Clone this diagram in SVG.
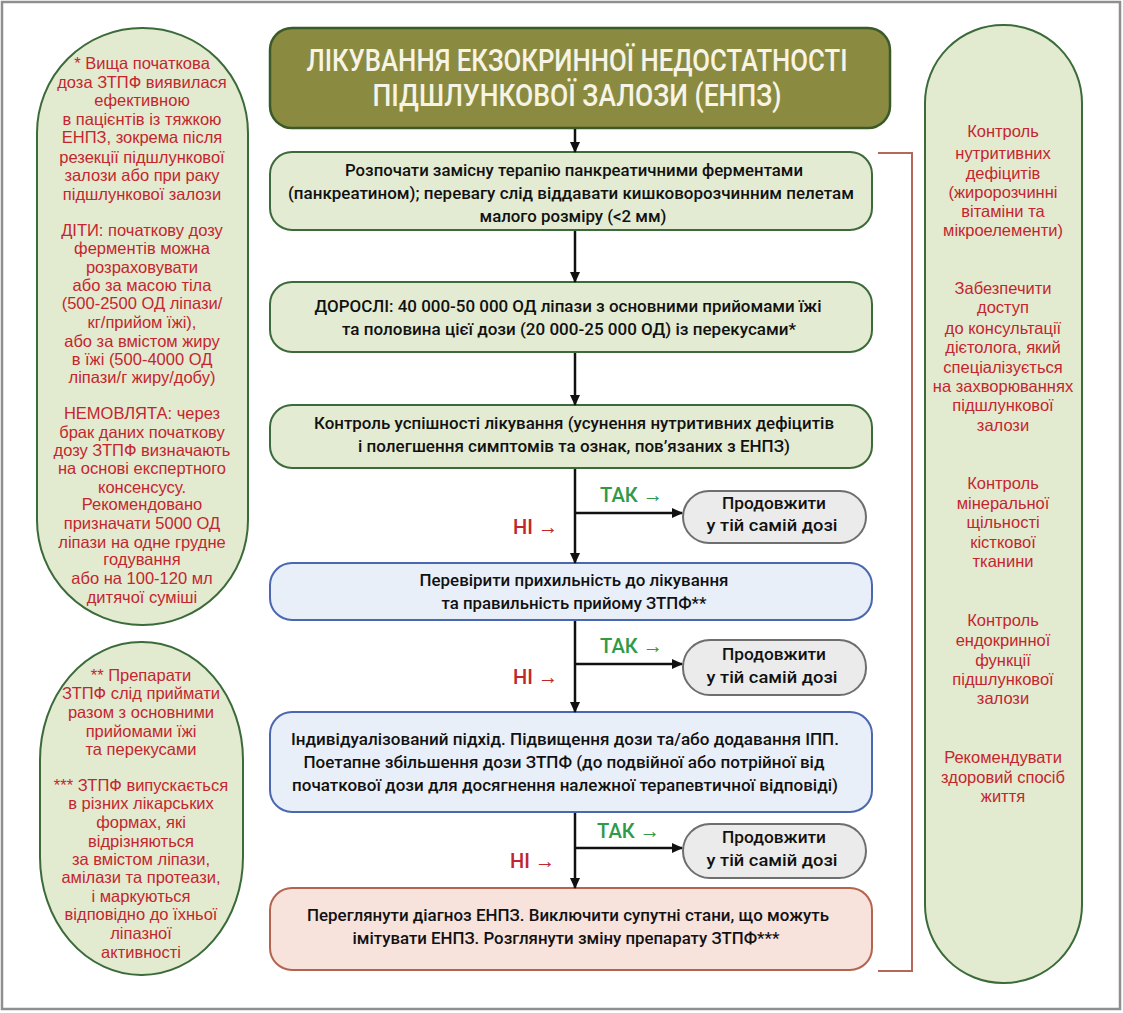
<svg xmlns="http://www.w3.org/2000/svg" width="1123" height="1013" viewBox="0 0 1123 1013">
<defs>
<marker id="ah" markerUnits="userSpaceOnUse" markerWidth="11" markerHeight="10" refX="10" refY="5" orient="auto">
<path d="M0,0 L11,5 L0,10 z" fill="#111"/>
</marker>
<style>
.frame{fill:#fff;stroke:#8f8f8f;stroke-width:2.5}
.pill{fill:#e2ead0;stroke:#3c6b3a;stroke-width:2}
.gbox{fill:#e3ebd2;stroke:#3d6a3b;stroke-width:2}
.bbox{fill:#e9eff9;stroke:#4a67b0;stroke-width:2}
.pbox{fill:#f7e2dc;stroke:#b4634f;stroke-width:2}
.cbox{fill:#ebebeb;stroke:#6e6e6e;stroke-width:2}
.title{fill:#8a8b40;stroke:#3b5a2a;stroke-width:2.5}
.tt{font-family:Roboto,"Liberation Sans",sans-serif;font-weight:500;font-size:31px;fill:#f7f4e6;text-anchor:middle}
.bt{font-family:Roboto,"Liberation Sans",sans-serif;font-weight:500;font-size:17px;fill:#111;text-anchor:middle}
.st{font-family:"Liberation Sans",Roboto,sans-serif;font-size:16.5px;fill:#c4262e;text-anchor:middle}
.yes{font-family:Roboto,"Liberation Sans",sans-serif;font-weight:500;font-size:21px;fill:#2f9a48}
.no{font-family:Roboto,"Liberation Sans",sans-serif;font-weight:500;font-size:21px;fill:#c0272d}
.ln{stroke:#111;stroke-width:2.5;fill:none;marker-end:url(#ah)}
.br{stroke:#b5685a;stroke-width:2;fill:none}
</style>
</defs>
<rect class="frame" x="2" y="2" width="1118" height="1007"/>

<g id="note-left-top">
<rect class="pill" x="37" y="28" width="211" height="597" rx="105" ry="105"/>
<text class="st" x="142" y="69">* Вища початкова</text>
<text class="st" x="142" y="88">доза ЗТПФ виявилася</text>
<text class="st" x="142" y="106">ефективною</text>
<text class="st" x="142" y="125">в пацієнтів із тяжкою</text>
<text class="st" x="142" y="143">ЕНПЗ, зокрема після</text>
<text class="st" x="142" y="163">резекції підшлункової</text>
<text class="st" x="142" y="181">залози або при раку</text>
<text class="st" x="142" y="200">підшлункової залози</text>
<text class="st" x="142" y="236">ДІТИ: початкову дозу</text>
<text class="st" x="142" y="254">ферментів можна</text>
<text class="st" x="142" y="273">розраховувати</text>
<text class="st" x="142" y="291">або за масою тіла</text>
<text class="st" x="142" y="309">(500-2500 ОД ліпази/</text>
<text class="st" x="142" y="328">кг/прийом їжі),</text>
<text class="st" x="142" y="347">або за вмістом жиру</text>
<text class="st" x="142" y="365">в їжі (500-4000 ОД</text>
<text class="st" x="142" y="383">ліпази/г жиру/добу)</text>
<text class="st" x="142" y="419">НЕМОВЛЯТА: через</text>
<text class="st" x="142" y="438">брак даних початкову</text>
<text class="st" x="142" y="456">дозу ЗТПФ визначають</text>
<text class="st" x="142" y="474">на основі експертного</text>
<text class="st" x="142" y="493">консенсусу.</text>
<text class="st" x="142" y="510">Рекомендовано</text>
<text class="st" x="142" y="529">призначати 5000 ОД</text>
<text class="st" x="142" y="548">ліпази на одне грудне</text>
<text class="st" x="142" y="565">годування</text>
<text class="st" x="142" y="584">або на 100-120 мл</text>
<text class="st" x="142" y="603">дитячої суміші</text>
</g>

<g id="note-left-bottom">
<rect class="pill" x="40" y="642" width="203" height="333" rx="101" ry="118"/>
<text class="st" x="141" y="681">** Препарати</text>
<text class="st" x="141" y="699">ЗТПФ слід приймати</text>
<text class="st" x="141" y="718">разом з основними</text>
<text class="st" x="141" y="737">прийомами їжі</text>
<text class="st" x="141" y="755">та перекусами</text>
<text class="st" x="141" y="791">*** ЗТПФ випускається</text>
<text class="st" x="141" y="809">в різних лікарських</text>
<text class="st" x="141" y="828">формах, які</text>
<text class="st" x="141" y="847">відрізняються</text>
<text class="st" x="141" y="865">за вмістом ліпази,</text>
<text class="st" x="141" y="883">амілази та протеази,</text>
<text class="st" x="141" y="902">і маркуються</text>
<text class="st" x="141" y="920">відповідно до їхньої</text>
<text class="st" x="141" y="939">ліпазної</text>
<text class="st" x="141" y="958">активності</text>
</g>

<g id="note-right">
<rect class="pill" x="925" y="25" width="157" height="958" rx="78" ry="78"/>
<text class="st" x="1003" y="137">Контроль</text>
<text class="st" x="1003" y="159">нутритивних</text>
<text class="st" x="1003" y="179">дефіцитів</text>
<text class="st" x="1003" y="198">(жиророзчинні</text>
<text class="st" x="1003" y="217">вітаміни та</text>
<text class="st" x="1003" y="236">мікроелементи)</text>
<text class="st" x="1003" y="294">Забезпечити</text>
<text class="st" x="1003" y="313">доступ</text>
<text class="st" x="1003" y="334">до консультації</text>
<text class="st" x="1003" y="353">дієтолога, який</text>
<text class="st" x="1003" y="373">спеціалізується</text>
<text class="st" x="1003" y="392">на захворюваннях</text>
<text class="st" x="1003" y="411">підшлункової</text>
<text class="st" x="1003" y="431">залози</text>
<text class="st" x="1003" y="489">Контроль</text>
<text class="st" x="1003" y="509">мінеральної</text>
<text class="st" x="1003" y="528">щільності</text>
<text class="st" x="1003" y="548">кісткової</text>
<text class="st" x="1003" y="567">тканини</text>
<text class="st" x="1003" y="626">Контроль</text>
<text class="st" x="1003" y="646">ендокринної</text>
<text class="st" x="1003" y="666">функції</text>
<text class="st" x="1003" y="685">підшлункової</text>
<text class="st" x="1003" y="704">залози</text>
<text class="st" x="1003" y="763">Рекомендувати</text>
<text class="st" x="1003" y="783">здоровий спосіб</text>
<text class="st" x="1003" y="802">життя</text>
</g>

<g id="title">
<rect class="title" x="270" y="28" width="620" height="100" rx="22" ry="22"/>
<text class="tt" x="577" y="71" textLength="541" lengthAdjust="spacingAndGlyphs">ЛІКУВАННЯ ЕКЗОКРИННОЇ НЕДОСТАТНОСТІ</text>
<text class="tt" x="577" y="106" textLength="409" lengthAdjust="spacingAndGlyphs">ПІДШЛУНКОВОЇ ЗАЛОЗИ (ЕНПЗ)</text>
</g>

<g id="step1">
<rect class="gbox" x="270" y="152" width="602" height="78" rx="22" ry="22"/>
<text class="bt" x="574" y="176" textLength="458" lengthAdjust="spacingAndGlyphs">Розпочати замісну терапію панкреатичними ферментами</text>
<text class="bt" x="571" y="199" textLength="566" lengthAdjust="spacingAndGlyphs">(панкреатином); перевагу слід віддавати кишковорозчинним пелетам</text>
<text class="bt" x="573" y="222" textLength="187" lengthAdjust="spacingAndGlyphs">малого розміру (&lt;2 мм)</text>
</g>

<g id="step2">
<rect class="gbox" x="270" y="282" width="602" height="70" rx="22" ry="22"/>
<text class="bt" x="568" y="312" textLength="507" lengthAdjust="spacingAndGlyphs">ДОРОСЛІ: 40 000-50 000 ОД ліпази з основними прийомами їжі</text>
<text class="bt" x="569" y="335" textLength="454" lengthAdjust="spacingAndGlyphs">та половина цієї дози (20 000-25 000 ОД) із перекусами*</text>
</g>

<g id="step3">
<rect class="gbox" x="270" y="405" width="602" height="63" rx="22" ry="22"/>
<text class="bt" x="574" y="429" textLength="520" lengthAdjust="spacingAndGlyphs">Контроль успішності лікування (усунення нутритивних дефіцитів</text>
<text class="bt" x="574" y="452" textLength="432" lengthAdjust="spacingAndGlyphs">і полегшення симптомів та ознак, пов’язаних з ЕНПЗ)</text>
</g>

<g id="continue1">
<rect class="cbox" x="683" y="491" width="183" height="52" rx="26" ry="26"/>
<text class="bt" x="774" y="509" textLength="104" lengthAdjust="spacingAndGlyphs">Продовжити</text>
<text class="bt" x="772" y="531" textLength="131" lengthAdjust="spacingAndGlyphs">у тій самій дозі</text>
</g>

<g id="step4">
<rect class="bbox" x="270" y="563" width="602" height="57" rx="22" ry="22"/>
<text class="bt" x="574" y="586" textLength="309" lengthAdjust="spacingAndGlyphs">Перевірити прихильність до лікування</text>
<text class="bt" x="574" y="609" textLength="265" lengthAdjust="spacingAndGlyphs">та правильність прийому ЗТПФ**</text>
</g>

<g id="continue2">
<rect class="cbox" x="683" y="640" width="183" height="55" rx="27" ry="27"/>
<text class="bt" x="774" y="660" textLength="104" lengthAdjust="spacingAndGlyphs">Продовжити</text>
<text class="bt" x="772" y="683" textLength="131" lengthAdjust="spacingAndGlyphs">у тій самій дозі</text>
</g>

<g id="step5">
<rect class="bbox" x="270" y="712" width="602" height="100" rx="22" ry="22"/>
<text class="bt" x="565" y="745" textLength="548" lengthAdjust="spacingAndGlyphs">Індивідуалізований підхід. Підвищення дози та/або додавання ІПП.</text>
<text class="bt" x="564" y="768" textLength="521" lengthAdjust="spacingAndGlyphs">Поетапне збільшення дози ЗТПФ (до подвійної або потрійної від</text>
<text class="bt" x="565" y="791" textLength="546" lengthAdjust="spacingAndGlyphs">початкової дози для досягнення належної терапевтичної відповіді)</text>
</g>

<g id="continue3">
<rect class="cbox" x="683" y="824" width="183" height="54" rx="27" ry="27"/>
<text class="bt" x="774" y="843" textLength="104" lengthAdjust="spacingAndGlyphs">Продовжити</text>
<text class="bt" x="772" y="866" textLength="131" lengthAdjust="spacingAndGlyphs">у тій самій дозі</text>
</g>

<g id="step6">
<rect class="pbox" x="270" y="888" width="602" height="82" rx="22" ry="22"/>
<text class="bt" x="568" y="921" textLength="522" lengthAdjust="spacingAndGlyphs">Переглянути діагноз ЕНПЗ. Виключити супутні стани, що можуть</text>
<text class="bt" x="566" y="944" textLength="427" lengthAdjust="spacingAndGlyphs">імітувати ЕНПЗ. Розглянути зміну препарату ЗТПФ***</text>
</g>

<g id="connectors">
<line class="ln" x1="575" y1="129" x2="575" y2="152"/>
<line class="ln" x1="575" y1="231" x2="575" y2="282"/>
<line class="ln" x1="575" y1="353" x2="575" y2="405"/>
<line class="ln" x1="575" y1="469" x2="575" y2="563"/>
<line class="ln" x1="575" y1="513" x2="682" y2="513"/>
<line class="ln" x1="575" y1="621" x2="575" y2="712"/>
<line class="ln" x1="575" y1="664" x2="682" y2="664"/>
<line class="ln" x1="575" y1="813" x2="575" y2="888"/>
<line class="ln" x1="575" y1="848" x2="682" y2="848"/>
<polyline class="br" points="878,153 912,153 912,971 878,971"/>
<text class="yes" x="600" y="502" textLength="63" lengthAdjust="spacingAndGlyphs">ТАК →</text>
<text class="no" x="513" y="534" textLength="45" lengthAdjust="spacingAndGlyphs">НІ →</text>
<text class="yes" x="600" y="653" textLength="63" lengthAdjust="spacingAndGlyphs">ТАК →</text>
<text class="no" x="513" y="684" textLength="45" lengthAdjust="spacingAndGlyphs">НІ →</text>
<text class="yes" x="597" y="838" textLength="63" lengthAdjust="spacingAndGlyphs">ТАК →</text>
<text class="no" x="510" y="868" textLength="45" lengthAdjust="spacingAndGlyphs">НІ →</text>
</g>
</svg>
